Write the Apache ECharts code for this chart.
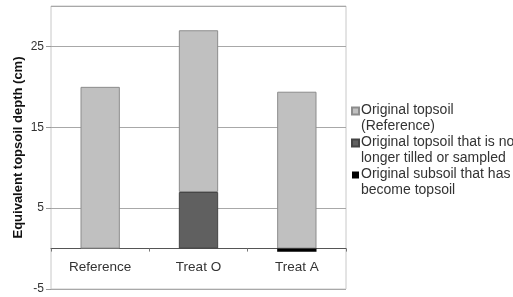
<!DOCTYPE html>
<html lang="en">
    <head>
        <title>Equivalent topsoil depth</title>
        <meta charset="utf-8">
        <script src='https://cdn.jsdelivr.net/npm/echarts@6/dist/echarts.min.js'></script>
    </head>

    <style>
        html, body, #main {
            width: 100%;
            height: 100%;
            margin: 0;
            background: #fff;
        }
    </style>

    <body>
        <div id='main'></div>

        <script>
            const categories = ['Reference', 'Treat O', 'Treat A'];
            // cm
            const topsoilRef = [20, 20, 19.4];
            const topsoilLost = [null, 7, null];
            const subsoilGained = [null, null, -0.4];

            const yTicks = { min: -5, max: 30, interval: 10 };

            const legendText = {
                'Original topsoil (Reference)': 'Original topsoil\n(Reference)',
                'Original topsoil that is no longer tilled or sampled': 'Original topsoil that is no\nlonger tilled or sampled',
                'Original subsoil that has become topsoil': 'Original subsoil that has\nbecome topsoil'
            };

            const font = 'Liberation Sans, Arial, sans-serif';
            // square at the top of the icon box so it sits on the first text line
            const icon = 'path://M0,0H10V10H0Z M0,30';

            const chart = echarts.init(document.getElementById('main'));

            const option = {
                animation: false,
                textStyle: { fontFamily: font },
                grid: {
                    left: 51, right: 167, top: 6, bottom: 8,
                    outerBoundsMode: 'none',
                    show: true,
                    borderColor: '#c8c8c8',
                    borderWidth: 1
                },
                legend: {
                    orient: 'vertical',
                    left: 351,
                    top: 102,
                    padding: 0,
                    itemWidth: 7,
                    itemHeight: 21,
                    itemGap: 0,
                    data: Object.keys(legendText).map(n => ({ name: n, icon: icon })),
                    formatter: n => legendText[n],
                    textStyle: {
                        fontSize: 14,
                        lineHeight: 16,
                        color: '#333',
                        padding: [0, 0, 0, -3],
                        fontFamily: font
                    }
                },
                xAxis: {
                    type: 'category',
                    data: categories,
                    axisLine: { onZero: true, lineStyle: { color: '#555', width: 1 } },
                    axisTick: { show: true, length: 3, lineStyle: { color: '#777' } },
                    // labels sit at the grid bottom, pull them up under the zero line
                    axisLabel: { fontSize: 13.5, color: '#333', margin: -29 }
                },
                yAxis: {
                    type: 'value',
                    min: yTicks.min,
                    max: yTicks.max,
                    interval: yTicks.interval,
                    name: 'Equivalent topsoil depth (cm)',
                    nameLocation: 'middle',
                    nameGap: 26,
                    nameMoveOverlap: false,
                    nameTextStyle: { fontSize: 13, fontWeight: 'bold', color: '#111' },
                    axisLine: { show: false },
                    axisTick: { show: true, length: 5, lineStyle: { color: '#999' } },
                    axisLabel: { fontSize: 12, color: '#333', margin: 7, showMaxLabel: false },
                    splitLine: { lineStyle: { color: '#a8a8a8' } }
                },
                series: [
                    {
                        name: 'Original topsoil that is no longer tilled or sampled',
                        type: 'bar',
                        stack: 'soil',
                        barWidth: '40%',
                        data: topsoilLost,
                        itemStyle: { color: '#606060', borderColor: '#444', borderWidth: 1 }
                    },
                    {
                        name: 'Original topsoil (Reference)',
                        type: 'bar',
                        stack: 'soil',
                        data: topsoilRef,
                        itemStyle: { color: '#c0c0c0', borderColor: '#8c8c8c', borderWidth: 1 }
                    },
                    {
                        name: 'Original subsoil that has become topsoil',
                        type: 'bar',
                        stack: 'soil',
                        data: subsoilGained,
                        itemStyle: { color: '#000' }
                    }
                ]
            };

            chart.setOption(option);

            window.onresize = function () {
                chart.resize();
            }
        </script>
    </body>
</html>
